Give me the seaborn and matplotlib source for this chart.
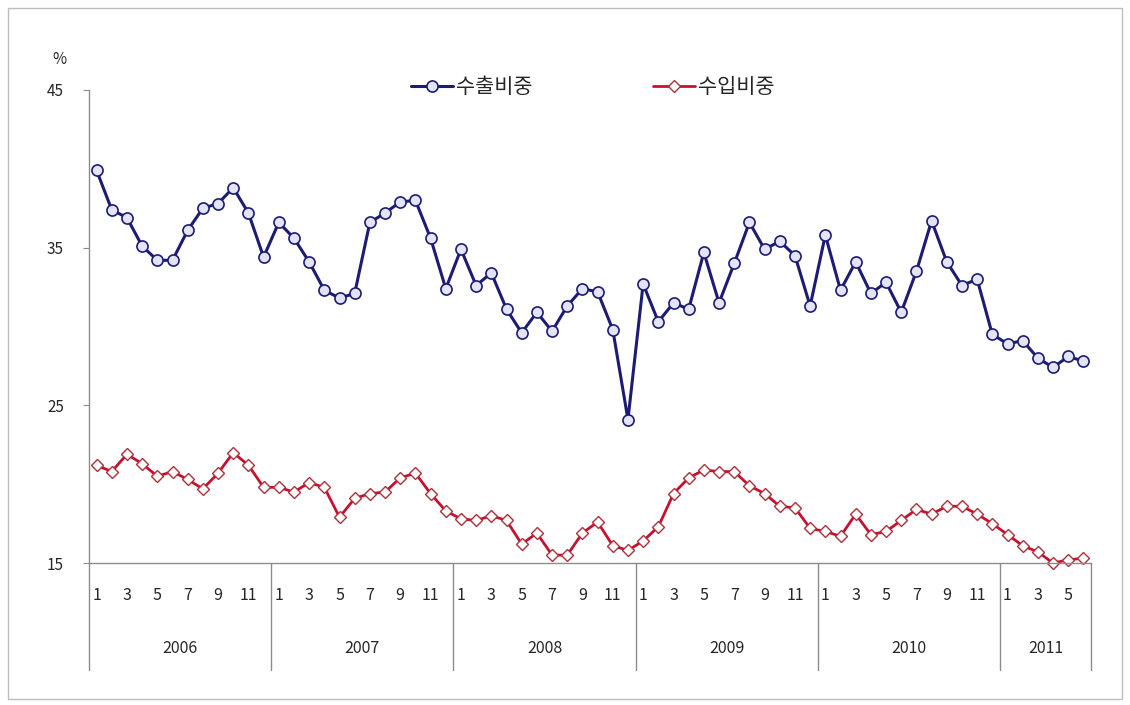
import numpy as np
import pandas as pd
import matplotlib.pyplot as plt
import matplotlib.transforms as mtrans
from matplotlib.patches import Rectangle
import seaborn as sns

# ── Data ────────────────────────────────────────────────────────────────────
years = ["2006", "2007", "2008", "2009", "2010", "2011"]
months_per_year = [12, 12, 12, 12, 12, 6]

export_share = [
    39.9, 37.4, 36.9, 35.1, 34.2, 34.2, 36.1, 37.5, 37.8, 38.8, 37.2, 34.4,   # 2006
    36.6, 35.6, 34.1, 32.3, 31.8, 32.1, 36.6, 37.2, 37.9, 38.0, 35.6, 32.4,   # 2007
    34.9, 32.6, 33.4, 31.1, 29.6, 30.9, 29.7, 31.3, 32.4, 32.2, 29.8, 24.1,   # 2008
    32.7, 30.3, 31.5, 31.1, 34.7, 31.5, 34.0, 36.6, 34.9, 35.4, 34.5, 31.3,   # 2009
    35.8, 32.3, 34.1, 32.1, 32.8, 30.9, 33.5, 36.7, 34.1, 32.6, 33.0, 29.5,   # 2010
    28.9, 29.1, 28.0, 27.4, 28.1, 27.8,                                       # 2011
]
import_share = [
    21.2, 20.8, 21.9, 21.3, 20.5, 20.8, 20.3, 19.7, 20.7, 22.0, 21.2, 19.8,   # 2006
    19.8, 19.5, 20.1, 19.8, 17.9, 19.1, 19.4, 19.5, 20.4, 20.7, 19.4, 18.3,   # 2007
    17.8, 17.7, 18.0, 17.7, 16.2, 16.9, 15.5, 15.5, 16.9, 17.6, 16.1, 15.8,   # 2008
    16.4, 17.3, 19.4, 20.4, 20.9, 20.8, 20.8, 19.9, 19.4, 18.6, 18.5, 17.2,   # 2009
    17.0, 16.7, 18.1, 16.8, 17.0, 17.7, 18.4, 18.1, 18.6, 18.6, 18.1, 17.5,   # 2010
    16.8, 16.1, 15.7, 15.0, 15.2, 15.3,                                       # 2011
]
y_ticks = [15, 25, 35, 45]

# ── Build frame ─────────────────────────────────────────────────────────────
month_labels = [m for n in months_per_year for m in range(1, n + 1)]
idx = np.arange(len(month_labels))
df = pd.DataFrame({"idx": idx, "month": month_labels,
                   "export": export_share, "import": import_share})

sns.set_style("white")
plt.rcParams["font.family"] = ["Noto Sans CJK KR", "DejaVu Sans"]

NAVY = "#1c1c74"
RED = "#c8102e"
GRID = "#8c8c8c"

fig = plt.figure(figsize=(11.3, 7.05), dpi=100)
ax = fig.add_axes([89 / 1130, 1 - 563 / 705, (1091 - 89) / 1130, (563 - 90) / 705])

sns.lineplot(data=df, x="idx", y="export", ax=ax, color=NAVY, lw=2.2,
             marker="o", markersize=8, markerfacecolor="#e4e4f6",
             markeredgecolor=NAVY, markeredgewidth=1.2, label="수출비중",
             clip_on=False)
sns.lineplot(data=df, x="idx", y="import", ax=ax, color=RED, lw=2.0,
             marker="D", markersize=6.5, markerfacecolor="white",
             markeredgecolor="#b0303a", markeredgewidth=1.0, label="수입비중",
             clip_on=False)

ax.set_xlim(-0.5, len(idx) - 0.5)
ax.set_ylim(15, 45)
ax.set_yticks(y_ticks)
ax.set_yticklabels([str(t) for t in y_ticks], fontsize=11)
ax.tick_params(axis="y", length=4, color=GRID, pad=14, left=True)
ax.set_xlabel("")
ax.set_ylabel("")

for s in ["top", "right"]:
    ax.spines[s].set_visible(False)
for s in ["left", "bottom"]:
    ax.spines[s].set_color(GRID)
    ax.spines[s].set_linewidth(1.0)

# odd month labels
odd = df[df["month"] % 2 == 1]
ax.set_xticks(odd["idx"])
ax.set_xticklabels(odd["month"], fontsize=11.5)
ax.tick_params(axis="x", length=0, pad=17)

# year separators and labels
trans = mtrans.blended_transform_factory(ax.transData, ax.transAxes)
edges = np.concatenate([[0], np.cumsum(months_per_year)]) - 0.5
for e in edges:
    ax.plot([e, e], [0, -0.226], transform=trans, color=GRID, lw=1.0,
            clip_on=False)
for yr, a, b in zip(years, edges[:-1], edges[1:]):
    ax.text((a + b) / 2, -0.18, yr, transform=trans, ha="center",
            va="center", fontsize=11.5)

ax.text(-0.03, 1.065, "%", transform=ax.transAxes, ha="center",
        va="center", fontsize=11)

ax.legend(loc="center", bbox_to_anchor=(593 / 1130, 1 - 87 / 705),
          bbox_transform=fig.transFigure, ncol=2, frameon=False,
          fontsize=15, columnspacing=5.8, handlelength=2.0,
          handletextpad=0.15)

# outer chart frame
fig.patches.append(Rectangle((8 / 1130, 6 / 705), 1 - 16 / 1130, 1 - 14 / 705,
                             transform=fig.transFigure, fill=False,
                             edgecolor="#bdbdbd", lw=1.0))

fig.savefig("out.png", dpi=100)
